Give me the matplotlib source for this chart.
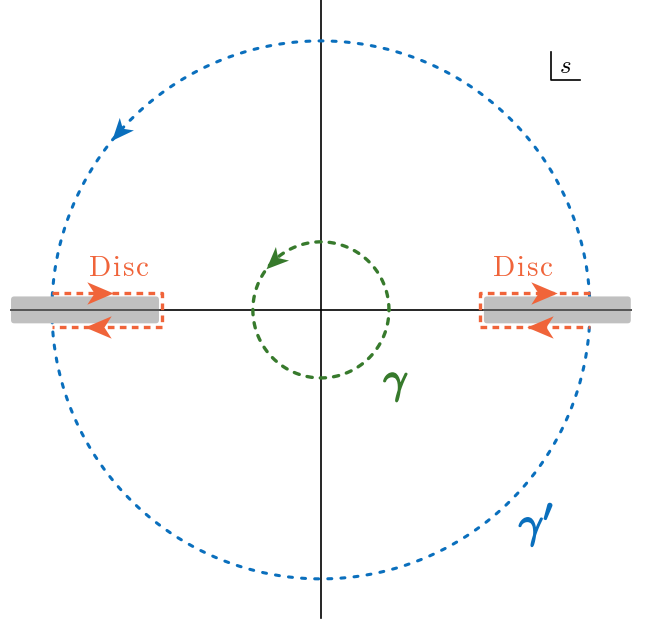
import numpy as np
import matplotlib.pyplot as plt
import matplotlib.patheffects as pe
from matplotlib.markers import MarkerStyle
from matplotlib.path import Path
from matplotlib.patches import FancyBboxPatch
from matplotlib.transforms import Affine2D

plt.rcParams["mathtext.fontset"] = "cm"

BLUE = "#0a6fbd"
GREEN = "#377a2c"
ORANGE = "#f0643a"
GREY = "#c0c0c0"

# geometry of the s-plane, in units of the outer radius
OUTER_R = 1.0
INNER_R = 0.253
BRANCH = [-0.59, 0.59]          # where the keyhole turns round each cut
CUT_START = [-0.602, 0.606]     # inner ends of the grey cuts
CUT_END = 1.152                 # outer ends of the cuts
CUT_HALF = 0.05                 # half-thickness of the grey cuts
KEY_HALF = 0.062                # half-gap of the keyhole around a cut
AXIS_X = [-1.15, 1.152]
AXIS_Y = [-1.145, 1.152]
X_LIM = [-1.193, 1.242]
Y_LIM = [-1.164, 1.152]

OUTER_ARROW_DEG = 138.5
INNER_ARROW_DEG = 134.0
DISC_TOP_ARROW_X = [-0.82, 0.83]
DISC_BOT_ARROW_X = [-0.83, 0.815]


def stealth(angle_deg):
    verts = [(1.0, 0.0), (-1.0, 0.85), (-0.45, 0.0), (-1.0, -0.85), (1.0, 0.0)]
    codes = [Path.MOVETO, Path.LINETO, Path.LINETO, Path.LINETO, Path.CLOSEPOLY]
    return MarkerStyle(Path(verts, codes), transform=Affine2D().rotate_deg(angle_deg))


def draw_arrow(ax, x, y, angle_deg, color, size):
    ax.plot([x], [y], marker=stealth(angle_deg), markersize=size,
            color=color, markeredgewidth=0, zorder=6)


fig = plt.figure(figsize=(6.55, 6.23), dpi=100)
ax = fig.add_axes([0, 0, 1, 1])
ax.set_xlim(X_LIM)
ax.set_ylim(Y_LIM)
ax.axis("off")

# axes of the plane
ax.plot(AXIS_X, [0, 0], color="black", lw=1.2, zorder=1)
ax.plot([0, 0], AXIS_Y, color="black", lw=1.2, zorder=1)

# outer contour gamma'
t = np.linspace(0, 2 * np.pi, 800)
ax.plot(OUTER_R * np.cos(t), OUTER_R * np.sin(t), color=BLUE, lw=2.2,
        linestyle=(0, (1.3, 3.0)), dash_capstyle="round", zorder=2)
a = np.radians(OUTER_ARROW_DEG)
draw_arrow(ax, OUTER_R * np.cos(a), OUTER_R * np.sin(a), OUTER_ARROW_DEG + 90, BLUE, 16)

# branch cuts, laid over the outer contour
for x0 in CUT_START:
    x1 = np.sign(x0) * CUT_END
    left, right = min(x0, x1), max(x0, x1)
    bar = FancyBboxPatch((left, -CUT_HALF), right - left, 2 * CUT_HALF,
                         boxstyle="round,pad=0,rounding_size=0.012",
                         facecolor=GREY, edgecolor="none", zorder=3)
    ax.add_patch(bar)
    ax.plot([left, right], [0, 0], color="#555555", lw=1.4, zorder=3)

# inner contour gamma
ax.plot(INNER_R * np.cos(t), INNER_R * np.sin(t), color=GREEN, lw=2.4,
        linestyle=(0, (1.6, 2.4)), dash_capstyle="round", zorder=4)
a = np.radians(INNER_ARROW_DEG)
draw_arrow(ax, INNER_R * np.cos(a), INNER_R * np.sin(a), INNER_ARROW_DEG + 90, GREEN, 16)

# keyhole contours around the cuts
disc = r"$\mathrm{D\hspace{0.08}i\hspace{0.08}s\hspace{0.08}c}$"
for x0, xt, xb in zip(BRANCH, DISC_TOP_ARROW_X, DISC_BOT_ARROW_X):
    xc = np.sign(x0) * OUTER_R
    ax.plot([xc, x0, x0, xc], [KEY_HALF, KEY_HALF, -KEY_HALF, -KEY_HALF],
            color=ORANGE, lw=2.4, linestyle=(0, (2.0, 1.6)), zorder=5)
    draw_arrow(ax, xt, KEY_HALF, 0, ORANGE, 19)
    draw_arrow(ax, xb, -KEY_HALF, 180, ORANGE, 19)
    ax.text(np.sign(x0) * 0.75, 0.156, disc, color=ORANGE,
            fontsize=21, ha="center", va="center")

thick = [pe.withStroke(linewidth=1.3, foreground=GREEN)]
ax.text(0.279, -0.27, r"$\gamma$", color=GREEN, fontsize=31, ha="center",
        va="center", path_effects=thick)
thick = [pe.withStroke(linewidth=1.3, foreground=BLUE)]
ax.text(0.80, -0.80, r"$\gamma'$", color=BLUE, fontsize=31, ha="center",
        va="center", path_effects=thick)

# plane label
ax.plot([0.855, 0.855, 0.963], [0.959, 0.855, 0.855], color="black", lw=1.2)
ax.text(0.907, 0.905, r"$s$", fontsize=18, ha="center", va="center")

fig.savefig("out.png", dpi=100)
